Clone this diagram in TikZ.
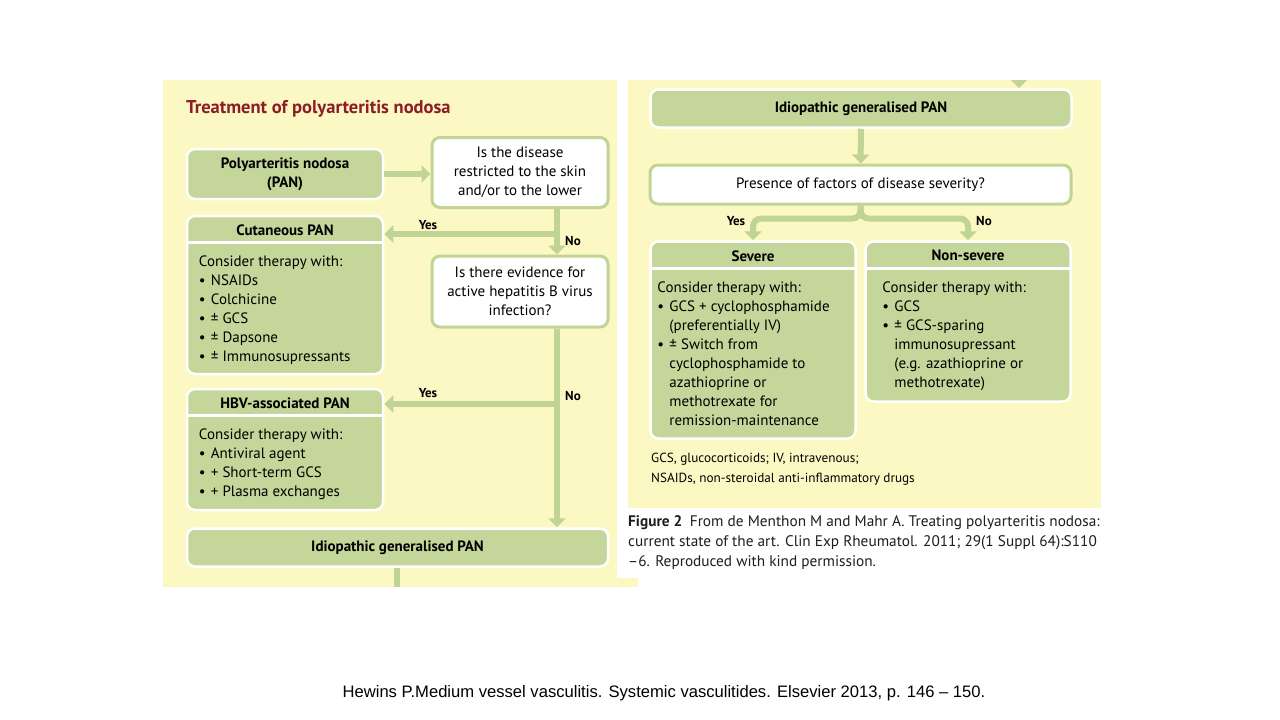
\documentclass[tikz,border=0pt]{standalone}
\usepackage{fontspec}
\setmainfont{PT Sans}
\newfontfamily\arialfont{Liberation Sans}
\usetikzlibrary{arrows.meta,positioning,calc}
\definecolor{PanelYellow}{RGB}{252,248,196}
\definecolor{BoxGreen}{RGB}{196,214,154}
\definecolor{LineGreen}{RGB}{192,212,150}
\definecolor{TitleRed}{RGB}{140,28,38}
\definecolor{CaptionInk}{RGB}{30,30,30}
\newcommand{\bulletpt}{\makebox[12pt][l]{•}}
\newcommand{\contpt}{\hspace*{12pt}}

\begin{document}
\begin{tikzpicture}[
  x=1pt,y=-1pt,
  greenbox/.style={draw=white,line width=2.5pt,fill=BoxGreen,rounded corners=8pt,
    inner sep=0pt,align=center,font=\fontsize{15}{19}\selectfont\bfseries},
  askbox/.style={draw=LineGreen,line width=3pt,fill=white,rounded corners=8pt,
    inner sep=0pt,align=center,font=\fontsize{15}{19}\selectfont},
  head/.style={inner sep=0pt,font=\fontsize{15}{19}\selectfont\bfseries},
  list/.style={anchor=north west,inner sep=0pt,align=left,font=\fontsize{15}{19}\selectfont},
  arr/.style={-{Triangle[width=17pt,length=9pt]},line width=6pt,LineGreen},
  lbl/.style={inner sep=0pt,font=\fontsize{13}{15}\selectfont\bfseries}
]
\useasboundingbox[fill=white] (0,0) rectangle (1280,720);
% scanned panels
\fill[PanelYellow] (163,80) rectangle (638,587);
\fill[white] (617,75) rectangle (1101,578);
\fill[PanelYellow] (628,80) rectangle (1101,508);

% left panel
\node[anchor=west,inner sep=0pt,TitleRed,font=\fontsize{18.5}{22}\selectfont\bfseries] (title)
  at (186,109) {Treatment of polyarteritis nodosa};

\node[greenbox,minimum width=196,minimum height=50] (pan) at (285,174)
  {Polyarteritis nodosa\\(PAN)};
\node[askbox,minimum width=176,minimum height=70] (skinq) at (520,172.5)
  {Is the disease\\restricted to the skin\\and/or to the lower};
\node[greenbox,minimum width=196,minimum height=158] (cutan) at (285,295) {};
\node[head] (cutanhead) at ($(cutan.north)+(0,15.5)$) {Cutaneous PAN};
\draw[white,line width=3pt] ($(cutan.north west)+(0,28)$) -- ($(cutan.north east)+(0,28)$);
\node[list] (cutanlist) at ($(cutan.north west)+(13,41)$)
  {Consider therapy with:\\
   \bulletpt NSAIDs\\
   \bulletpt Colchicine\\
   \bulletpt ± GCS\\
   \bulletpt ± Dapsone\\
   \bulletpt ± Immunosupressants};
\node[askbox,minimum width=176,minimum height=71] (hbvq) at (520,291.5)
  {Is there evidence for\\active hepatitis B virus\\infection?};
\node[greenbox,minimum width=196,minimum height=121] (hbv) at (285,449.5) {};
\node[head] (hbvhead) at ($(hbv.north)+(0,15.5)$) {HBV-associated PAN};
\draw[white,line width=3pt] ($(hbv.north west)+(0,28)$) -- ($(hbv.north east)+(0,28)$);
\node[list] (hbvlist) at ($(hbv.north west)+(13,41)$)
  {Consider therapy with:\\
   \bulletpt Antiviral agent\\
   \bulletpt + Short-term GCS\\
   \bulletpt + Plasma exchanges};
\node[greenbox,minimum width=421,minimum height=38] (idioL) at (397.5,547.5)
  {Idiopathic generalised PAN};

\coordinate (yes1) at (557,234);
\coordinate (yes2) at (557,404);
\coordinate (offL) at (397,587);
\draw[arr] (pan.east) -- (skinq.west |- pan.east);
\draw[arr] (skinq.south -| yes1) -- (hbvq.north -| yes1);
\draw[arr] (yes1) -- (cutan.east |- yes1);
\draw[arr] (hbvq.south -| yes2) -- (idioL.north -| yes2);
\draw[arr] (yes2) -- (hbv.east |- yes2);
\draw[line width=6pt,LineGreen] (idioL.south -| offL) -- (offL);
\node[lbl] (yes1lbl) at (428,225) {Yes};
\node[lbl] (no1lbl) at (573,241) {No};
\node[lbl] (yes2lbl) at (428,393) {Yes};
\node[lbl] (no2lbl) at (573,396) {No};

% right panel
\node[greenbox,minimum width=421,minimum height=38] (idioR) at (861,108.5)
  {Idiopathic generalised PAN};
\begin{scope}
  \clip (628,80) rectangle (1101,508);
  \coordinate (fromtop) at (1019,50);
  \draw[arr] (fromtop) -- (idioR.north -| fromtop);
\end{scope}
\node[askbox,minimum width=421,minimum height=39] (sevq) at (860.5,184.5)
  {Presence of factors of disease severity?};
\node[greenbox,minimum width=205,minimum height=197] (severe) at (753,340) {};
\node[head] (severehead) at ($(severe.north)+(0,15.5)$) {Severe};
\draw[white,line width=3pt] ($(severe.north west)+(0,28)$) -- ($(severe.north east)+(0,28)$);
\node[list] (severelist) at ($(severe.north west)+(8,41)$)
  {Consider therapy with:\\
   \bulletpt GCS + cyclophosphamide\\
   \contpt (preferentially IV)\\
   \bulletpt ± Switch from\\
   \contpt cyclophosphamide to\\
   \contpt azathioprine or\\
   \contpt methotrexate for\\
   \contpt remission-maintenance};
\node[greenbox,minimum width=205,minimum height=160] (nonsev) at (968,321.5) {};
\node[head] (nonsevhead) at ($(nonsev.north)+(0,15.5)$) {Non-severe};
\draw[white,line width=3pt] ($(nonsev.north west)+(0,28)$) -- ($(nonsev.north east)+(0,28)$);
\node[list] (nonsevlist) at ($(nonsev.north west)+(18,41)$)
  {Consider therapy with:\\
   \bulletpt GCS\\
   \bulletpt ± GCS-sparing\\
   \contpt immunosupressant\\
   \contpt (e.g. azathioprine or\\
   \contpt methotrexate)};

\draw[arr] (idioR) -- (sevq);
\draw[arr,rounded corners=8pt] (sevq.south) -- ($(sevq.south)+(0,13)$) -| (severe.north);
\draw[arr,rounded corners=8pt] (sevq.south) -- ($(sevq.south)+(0,13)$) -| (nonsev.north);
\node[lbl] (yes3lbl) at (736,221) {Yes};
\node[lbl] (no3lbl) at (984,221) {No};

\node[anchor=north west,inner sep=0pt,align=left,font=\fontsize{13.2}{20}\selectfont] (abbrev)
  at (651,453) {GCS, glucocorticoids; IV, intravenous;\\
  NSAIDs, non-steroidal anti-inflammatory drugs};

% caption
\node[anchor=north west,inner sep=0pt,align=left,text=CaptionInk,font=\fontsize{15.3}{20}\selectfont] (caption)
  at (628,515) {\textbf{Figure 2}\enspace From de Menthon M and Mahr A. Treating polyarteritis nodosa:\\
  current state of the art. Clin Exp Rheumatol. 2011; 29(1 Suppl 64):S110\\
  –6. Reproduced with kind permission.};
\node[inner sep=0pt,font=\arialfont\fontsize{16.6}{18}\selectfont] (source) at (664,693)
  {Hewins P.Medium vessel vasculitis. Systemic vasculitides. Elsevier 2013, p. 146 – 150.};
\end{tikzpicture}
\end{document}
